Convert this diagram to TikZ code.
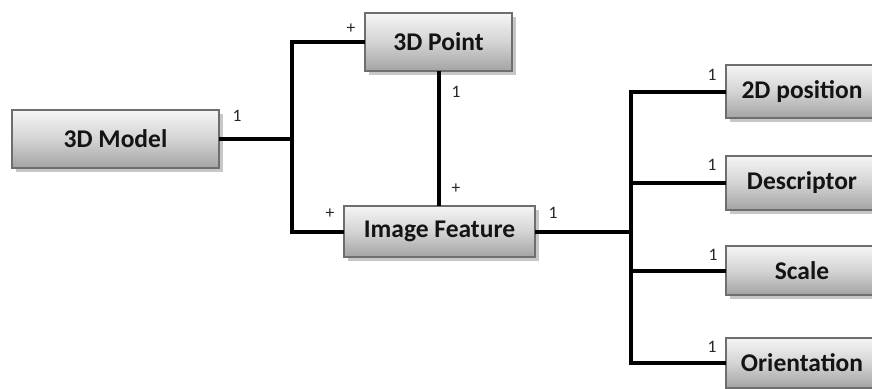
\documentclass[tikz,border=0pt]{standalone}
\usepackage{fontspec}
\setmainfont{Carlito}
\usetikzlibrary{shadows}
\begin{document}
\begin{tikzpicture}[x=1pt,y=-1pt,
  entity/.style={draw=black!57, line width=1.4pt, rectangle,
    top color=black!4, bottom color=black!36, middle color=black!17,
    inner sep=0pt, outer sep=0pt,
    font=\fontsize{25.5}{28}\selectfont\bfseries, text=black!92,
    drop shadow={shadow xshift=4pt, shadow yshift=-4pt, fill=black!22, opacity=1}},
  link/.style={line width=4pt, draw=black},
  mult/.style={font=\fontsize{17.5}{19}\selectfont, text=black!85, inner sep=0pt}]
  \useasboundingbox (0,0) rectangle (872,388);
  \clip (0,0) rectangle (872,388);

  % classes
  \node[entity, minimum width=207pt, minimum height=58pt] (model)  at (115.5,139) {3D Model};
  \node[entity, minimum width=147pt, minimum height=58pt] (point)  at (438.5,42)  {3D Point};
  \node[entity, minimum width=191pt, minimum height=51pt] (feat)   at (439.5,231.5) {Image Feature};
  \node[entity, minimum width=152pt, minimum height=53pt] (pos)    at (802,91.5)  {2D position};
  \node[entity, minimum width=152pt, minimum height=54pt] (desc)   at (802,183)   {Descriptor};
  \node[entity, minimum width=152pt, minimum height=49pt] (scale)  at (802,270.5) {Scale};
  \node[entity, minimum width=152pt, minimum height=50pt] (orient) at (802,363)   {Orientation};

  % junctions
  \coordinate (jA) at (292,139);
  \coordinate (jB) at (631,231.5);

  % associations
  \draw[link] (point.west) -| (jA) |- (feat.west);
  \draw[link] (model.east) -- (jA);
  \draw[link] (point.south) -- (point.south |- feat.north);
  \draw[link] (feat.east) -- (jB);
  \draw[link] (pos.west) -| (jB) |- (orient.west);
  \draw[link] (desc.west) -- (desc.west -| jB);
  \draw[link] (scale.west) -- (scale.west -| jB);

  % multiplicities
  \node[mult] (m1) at (237,116) {1};
  \node[mult] (m2) at (351,29)  {+};
  \node[mult] (m3) at (456,92)  {1};
  \node[mult] (m4) at (456,189) {+};
  \node[mult] (m5) at (330,214) {+};
  \node[mult] (m6) at (553,213) {1};
  \node[mult] (m7) at (712,75)  {1};
  \node[mult] (m8) at (712,165) {1};
  \node[mult] (m9) at (713,255) {1};
  \node[mult] (m10) at (712,347) {1};
\end{tikzpicture}
\end{document}
